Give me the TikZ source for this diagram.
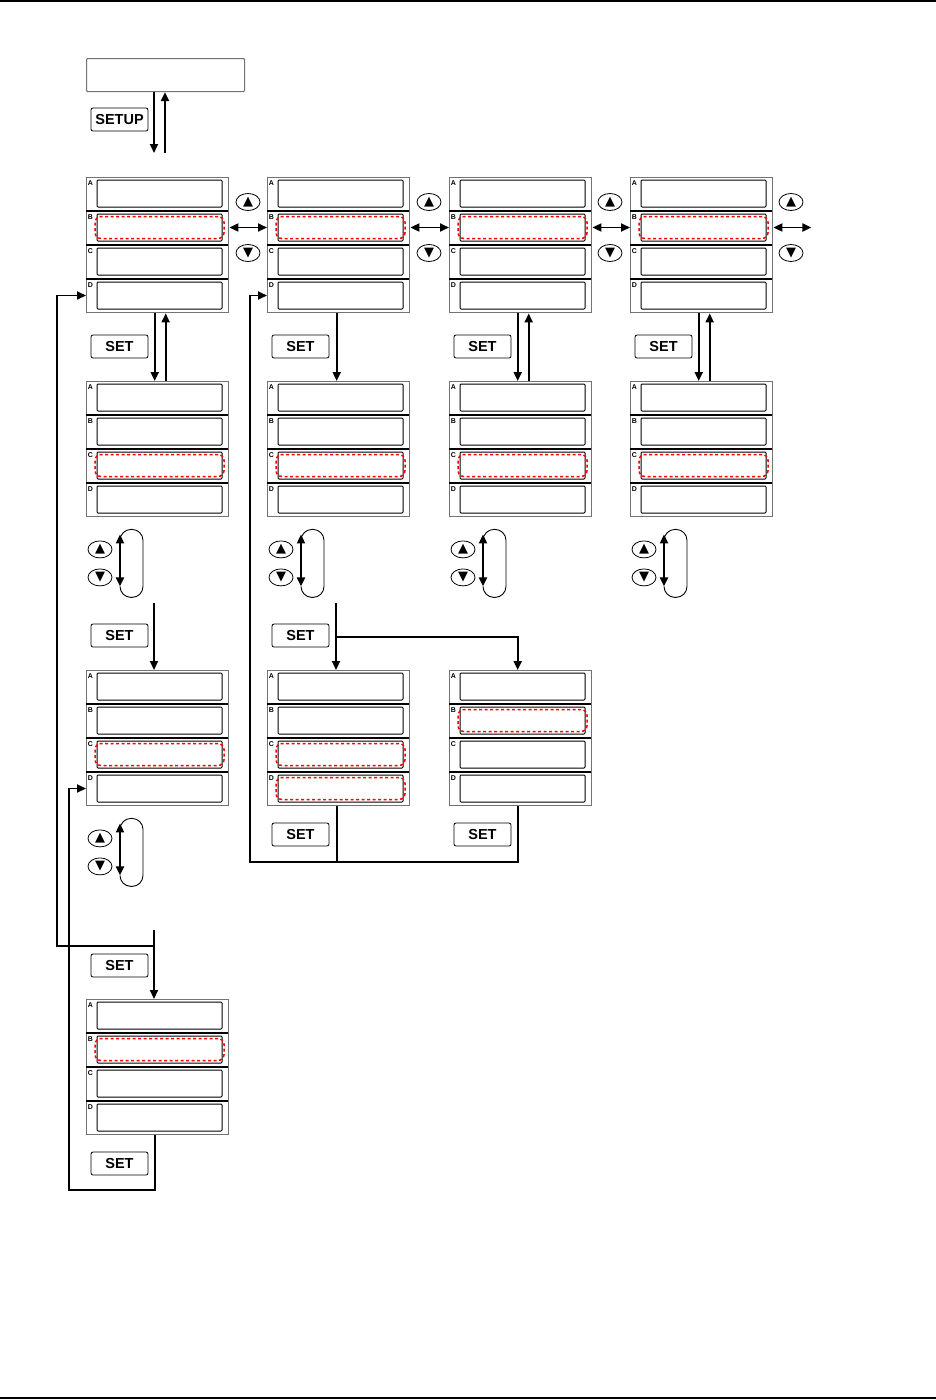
\documentclass[tikz,border=0pt]{standalone}
\usepackage{fontspec}
\setsansfont{Liberation Sans}
\newfontfamily\keyfont{DejaVu Sans}
\usetikzlibrary{arrows.meta,calc,shapes.geometric}

% one display panel: name, left x, top y
\newcommand{\lcd}[3]{%
  \node[panel] (#1) at (#2,#3) {};
  \foreach \r/\l in {0/A,1/B,2/C,3/D}{
    \node[cell] (#1-\l) at ($(#1.north west)+(73.5,16.5+34*\r)$) {};
    \node[tag] at ($(#1.north west)+(4.5,6+34*\r)$) {\l};
  }
  \foreach \r in {1,2,3}
    \draw[sep] ($(#1.north west)+(0,34*\r)$) -- ++(142,0);
}
% red dashed frame round the selected row
\newcommand{\selrow}[1]{%
  \draw[hilite] ($(#1.north west)+(-1.5,3)$) rectangle ($(#1.south east)+(1.5,-3)$);
}

\begin{document}
\begin{tikzpicture}[x=1pt, y=-1pt, >={Triangle[width=8pt,length=9pt]},
  panel/.style={draw=black!55, line width=1.4pt, anchor=north west,
    minimum width=142pt, minimum height=135pt, inner sep=0pt},
  cell/.style={draw, line width=1pt, rounded corners=1pt,
    minimum width=125pt, minimum height=27pt, inner sep=0pt},
  tag/.style={font=\sffamily\bfseries\fontsize{7}{7}\selectfont, inner sep=0pt},
  sep/.style={line width=1.3pt},
  hilite/.style={draw=red, line width=1.5pt, dash pattern=on 3pt off 2.5pt,
    rounded corners=6pt},
  btn/.style={draw, rounded corners=2pt, line width=0.8pt, minimum width=57pt,
    minimum height=23pt, inner sep=0pt,
    font=\sffamily\bfseries\fontsize{14.5}{14.5}\selectfont},
  key/.style={draw, ellipse, line width=0.8pt, minimum width=24pt,
    minimum height=17pt, inner sep=0pt, font=\keyfont\fontsize{13}{13}\selectfont},
  link/.style={line width=1.9pt},
  loopline/.style={line width=0.9pt, rounded corners=11pt}]

  \useasboundingbox (0,0) rectangle (936,1400);
  % page rules
  \draw[line width=1.5pt] (0,1) -- (936,1);
  \draw[line width=1.5pt] (0,1398) -- (936,1398);

  % measuring screen and SETUP key
  \node[draw=black!55, line width=1.1pt, rounded corners=1pt, anchor=north west,
    minimum width=158pt, minimum height=33pt, inner sep=0pt] (menu) at (86,58) {};
  \node[btn] (bsetup) at (119.5,119.5) {SETUP};
  \coordinate (t1) at (154,153);
  \coordinate (t2) at (165,153);
  \draw[link,->] (t1 |- menu.south) -- (t1);
  \draw[link,->] (t2) -- (t2 |- menu.south);

  % panels
  \lcd{p11}{86}{177}  \lcd{p12}{267}{177} \lcd{p13}{449}{177} \lcd{p14}{630}{177}
  \lcd{p21}{86}{381}  \lcd{p22}{267}{381} \lcd{p23}{449}{381} \lcd{p24}{630}{381}
  \lcd{p31}{86}{670}  \lcd{p32}{267}{670} \lcd{p33}{449}{670}
  \lcd{p41}{86}{999}
  \selrow{p11-B} \selrow{p12-B} \selrow{p13-B} \selrow{p14-B}
  \selrow{p21-C} \selrow{p22-C} \selrow{p23-C} \selrow{p24-C}
  \selrow{p31-C} \selrow{p32-C} \selrow{p32-D} \selrow{p33-B}
  \selrow{p41-B}

  % up/down keys between the first row of panels
  \foreach \k [count=\i] in {248,429,610,791}{
    \node[key] (u1\i) at (\k,202) {▲};
    \node[key] (d1\i) at (\k,253) {▼};
  }
  \draw[link,<->] (p11.east |- p11-B) -- (p12.west |- p12-B);
  \draw[link,<->] (p12.east |- p12-B) -- (p13.west |- p13-B);
  \draw[link,<->] (p13.east |- p13-B) -- (p14.west |- p14-B);
  \draw[link,<->] (p14.east |- p14-B) -- ++(38,0);

  % SET down to the second row
  \foreach \col/\bx in {1/119.5,2/300.5,3/482.5,4/663.5}
    \node[btn] (b1\col) at (\bx,346.5) {SET};
  \draw[link,->] ($(p11.south)+(-3,0)$) -- ($(p21.north)+(-3,0)$);
  \draw[link,->] ($(p21.north)+(8,0)$) -- ($(p11.south)+(8,0)$);
  \draw[link,->] ($(p12.south)+(-2,0)$) -- ($(p22.north)+(-2,0)$);
  \draw[link,->] ($(p13.south)+(-3,0)$) -- ($(p23.north)+(-3,0)$);
  \draw[link,->] ($(p23.north)+(8,0)$) -- ($(p13.south)+(8,0)$);
  \draw[link,->] ($(p14.south)+(-3,0)$) -- ($(p24.north)+(-3,0)$);
  \draw[link,->] ($(p24.north)+(8,0)$) -- ($(p14.south)+(8,0)$);

  % up/down keys under the second row
  \foreach \col in {1,2,3,4}{
    \node[key] (u2\col) at ($(p2\col.south west)+(14,32)$) {▲};
    \node[key] (d2\col) at ($(p2\col.south west)+(14,60)$) {▼};
    \draw[link,<->] ($(p2\col.south west)+(34,17)$) -- ++(0,52);
    \draw[loopline] ($(p2\col.south west)+(34,30)$) |- ++(23,-18) |- ++(-23,68) -- ++(0,-10);
  }

  % SET down to the third row
  \node[btn] (b21) at (119.5,635.5) {SET};
  \node[btn] (b22) at (300.5,635.5) {SET};
  \coordinate (s1) at (154,603);
  \coordinate (s2) at (336,603);
  \coordinate (j2) at (336,637);
  \draw[link,->] (s1) -- (s1 |- p31.north);
  \draw[link,->] (s2) -- (s2 |- p32.north);
  \draw[link,->] (j2) -| ($(p33.north)+(-3,0)$);

  % up/down keys under the third row
  \node[key] (u31) at ($(p31.south west)+(14,32)$) {▲};
  \node[key] (d31) at ($(p31.south west)+(14,60)$) {▼};
  \draw[link,<->] ($(p31.south west)+(34,17)$) -- ++(0,52);
  \draw[loopline] ($(p31.south west)+(34,30)$) |- ++(23,-18) |- ++(-23,68) -- ++(0,-10);

  % SET back to the second panel of the first row
  \node[btn] (b32) at (300.5,834.5) {SET};
  \node[btn] (b33) at (482.5,834.5) {SET};
  \coordinate (r2) at (250,862);
  \draw[link] ($(p32.south)+(-2,0)$) -- ++(0,57);
  \draw[link,->] ($(p33.south)+(-3,0)$) |- (r2) |- (p12.west |- p12-D);

  % SET down to the fourth row, and back to the first panel
  \node[btn] (b41) at (119.5,965.5) {SET};
  \coordinate (s3) at (154,930);
  \coordinate (j3) at (154,946);
  \coordinate (w1) at (57,946);
  \draw[link,->] (s3) -- (s3 |- p41.north);
  \draw[link,->] (j3) -- (w1) |- (p11.west |- p11-D);

  % SET from the fourth row back to the third row
  \node[btn] (b42) at (119.5,1163.5) {SET};
  \coordinate (w2) at (69,1190);
  \draw[link,->] ($(p41.south)+(-3,0)$) |- (w2) |- (p31.west |- p31-D);
\end{tikzpicture}
\end{document}
